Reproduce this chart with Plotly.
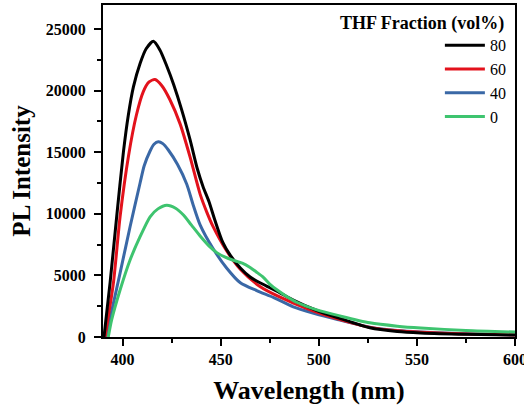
import plotly.graph_objects as go

# THF fraction 80 vol%
wl_80 = [390.5, 393.6, 397, 400.4, 402.9, 405.5, 408.9, 412, 415.7, 419, 422.5, 426, 430, 434.4, 438, 441, 444, 447, 451, 455, 460, 465, 470, 475, 480, 487, 499, 511, 526, 540, 552, 575, 600]
pl_80 = [0, 4400, 9800, 15000, 18000, 20300, 22200, 23400, 24000, 23300, 22000, 20500, 18500, 16000, 13700, 12200, 11000, 9500, 7700, 6600, 5600, 4870, 4400, 4000, 3600, 3000, 2150, 1500, 750, 450, 330, 220, 160]

# THF fraction 60 vol%
wl_60 = [391, 395.3, 398.7, 403, 407, 410.5, 413.5, 416.5, 420, 424, 429.3, 434.4, 439.5, 443, 446, 453, 460, 470, 480, 495.6, 510, 526, 540, 552, 575, 600]
pl_60 = [0, 4380, 9760, 14700, 18000, 19900, 20700, 20900, 20400, 19300, 17300, 14600, 11600, 10100, 9000, 7000, 5500, 4100, 3250, 2200, 1450, 780, 500, 380, 250, 170]

# THF fraction 40 vol%
wl_40 = [391.5, 394, 398.7, 403.8, 408.9, 411, 414, 416, 418.2, 420.5, 423.3, 428, 432.7, 436, 439.5, 446, 453, 460, 468.6, 477, 487, 497, 510, 526, 540, 552, 575, 600]
pl_40 = [0, 1800, 5190, 8950, 12500, 13900, 15100, 15650, 15850, 15700, 15180, 14000, 12400, 10700, 9100, 7200, 5600, 4400, 3750, 3200, 2450, 1950, 1400, 800, 520, 400, 260, 180]

# THF fraction 0 vol%
wl_0 = [392.7, 394.4, 398.7, 403.8, 408.9, 414, 418, 422.5, 427, 431, 435, 439.5, 444, 448, 452, 456, 461, 465, 468, 471.6, 475, 478.8, 484, 489, 499, 511, 526, 540, 552, 575, 600]
pl_0 = [0, 1380, 3810, 6250, 8140, 9760, 10400, 10700, 10450, 9900, 9100, 8200, 7400, 6850, 6500, 6250, 6000, 5650, 5300, 4870, 4300, 3810, 3250, 2800, 2200, 1700, 1150, 880, 730, 530, 400]

series = [
    ("80", wl_80, pl_80, "#000000", 1),
    ("60", wl_60, pl_60, "#e3121c", 2),
    ("40", wl_40, pl_40, "#3a68a6", 3),
    ("0", wl_0, pl_0, "#3ec46f", 4),
]

fig = go.Figure()
for name, x, y, color, rank in [series[2], series[1], series[0], series[3]]:
    fig.add_trace(go.Scatter(
        x=x, y=y, mode="lines", name=name, legendrank=rank,
        line=dict(color=color, width=3, shape="spline", smoothing=0.7),
    ))

serif = "Liberation Serif, Times New Roman, serif"

fig.update_layout(
    width=524, height=405,
    margin=dict(l=103, r=9, t=5, b=68),
    plot_bgcolor="white", paper_bgcolor="white",
    font=dict(family=serif, color="black"),
    showlegend=True,
    legend=dict(
        x=0.99, y=0.93, xanchor="right", yanchor="top",
        font=dict(family=serif, size=16, color="black"),
        bgcolor="rgba(0,0,0,0)", borderwidth=0,
        tracegroupgap=0, itemwidth=40,
    ),
    annotations=[dict(
        text="<b>THF Fraction (vol%)</b>", x=0.978, y=0.943,
        xref="paper", yref="paper", xanchor="right", yanchor="middle",
        showarrow=False, font=dict(family=serif, size=18, color="black"),
    )],
)

fig.update_xaxes(
    range=[390, 600], tick0=400, dtick=50, automargin=False,
    ticks="outside", ticklen=7, tickwidth=1.5, tickcolor="black",
    minor=dict(dtick=25, tick0=400, ticks="outside", ticklen=4, tickwidth=1.5, tickcolor="black"),
    showline=True, linewidth=2, linecolor="black", mirror=True,
    showgrid=False, zeroline=False, ticklabeloverflow="allow",
    tickfont=dict(family=serif, size=16, color="black", weight="bold"),
    title=dict(text="<b>Wavelength (nm)</b>", font=dict(family=serif, size=26, color="black"), standoff=22),
)
fig.update_yaxes(
    range=[0, 26950], tick0=0, dtick=5000, tickformat="d", automargin=False,
    ticks="outside", ticklen=7, tickwidth=1.5, tickcolor="black",
    minor=dict(dtick=2500, tick0=0, ticks="outside", ticklen=4, tickwidth=1.5, tickcolor="black"),
    showline=True, linewidth=2, linecolor="black", mirror=True,
    showgrid=False, zeroline=False, ticklabelstandoff=5,
    tickfont=dict(family=serif, size=16, color="black", weight="bold"),
    title=dict(text="<b>PL Intensity</b>", font=dict(family=serif, size=25, color="black"), standoff=8),
)

fig.write_html("out.html")
